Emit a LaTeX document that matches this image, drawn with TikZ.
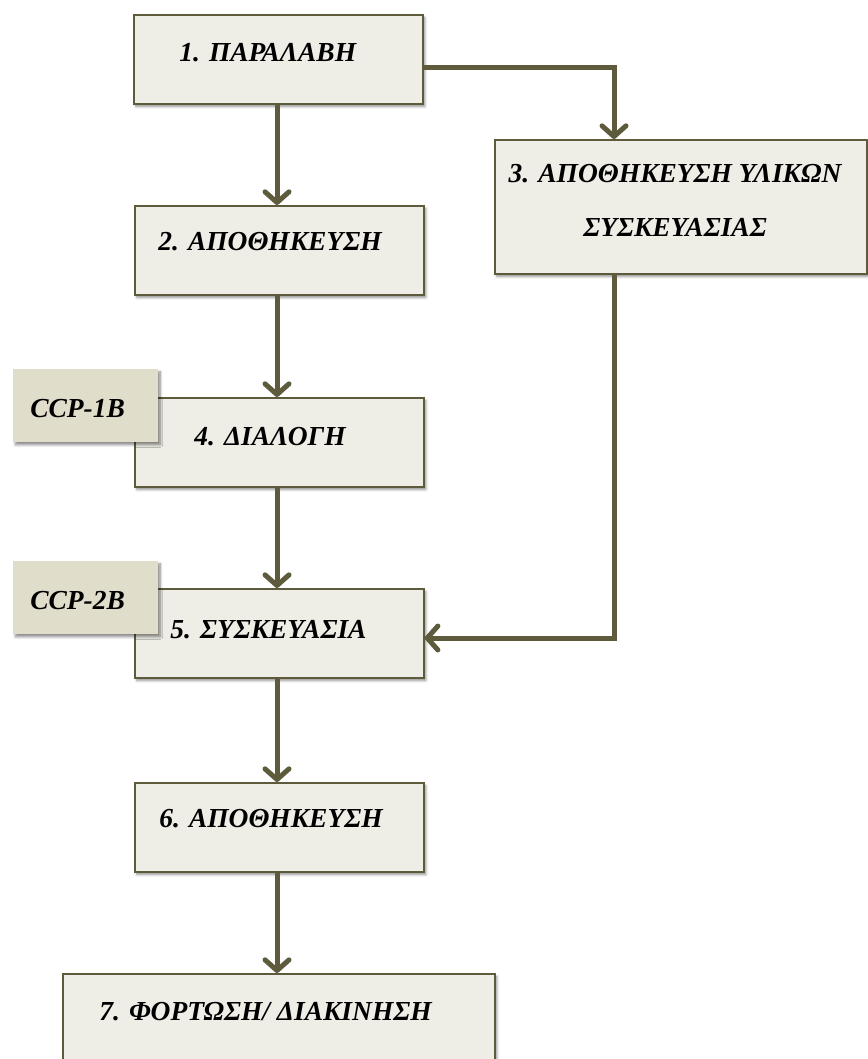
\documentclass[tikz,border=0pt]{standalone}
\usepackage{fontspec}
\setmainfont{Liberation Serif}
\usetikzlibrary{arrows.meta,shadows.blur}

\definecolor{boxfill}{HTML}{EEEDE6}
\definecolor{ccpfill}{HTML}{E0DECA}
\definecolor{edge}{HTML}{5E5A3C}

\tikzset{
  px/.style={x=0.75pt,y=-0.75pt},
  stepbox/.style={draw=edge, line width=1.3pt, fill=boxfill, anchor=north west,
    inner sep=0pt, minimum width=216.75pt, minimum height=66.75pt,
    blur shadow={shadow xshift=1.5pt, shadow yshift=-2pt, shadow blur steps=6, shadow opacity=45}},
  ccpbox/.style={fill=ccpfill, anchor=north west, inner sep=0pt,
    minimum width=108.75pt, minimum height=54.75pt,
    blur shadow={shadow xshift=1.5pt, shadow yshift=-2pt, shadow blur steps=6, shadow opacity=45}},
  lbl/.style={anchor=base west, inner sep=0pt,
    font=\fontsize{20.6}{25}\selectfont\bfseries\itshape},
  flow/.style={draw=edge, line width=3.75pt,
    -{Straight Barb[length=8pt,width=18pt,round]}},
}

\begin{document}
\begin{tikzpicture}[px]
\useasboundingbox (0,0) rectangle (867,1059);

% process boxes
\node[stepbox] (b1) at (133,14) {};
\node[stepbox] (b2) at (134,205) {};
\node[stepbox, minimum width=279pt, minimum height=100.5pt] (b3) at (494,139) {};
\node[stepbox] (b4) at (134,397) {};
\node[stepbox] (b5) at (134,588) {};
\node[stepbox] (b6) at (134,782) {};
\node[stepbox, minimum width=324pt, minimum height=82pt] (b7) at (62,973) {};

% critical control points
\node[ccpbox] (c1) at (13,369) {};
\node[ccpbox] (c2) at (13,561) {};

% labels
\node[lbl] (t1) at (179,62) {1. ΠΑΡΑΛΑΒΗ};
\node[lbl] (t2) at (158,251) {2. ΑΠΟΘΗΚΕΥΣΗ};
\node[lbl, anchor=center, align=center, font=\fontsize{20.6}{40.5}\selectfont\bfseries\itshape] (t3) at (675,200)
  {3. ΑΠΟΘΗΚΕΥΣΗ ΥΛΙΚΩΝ\\ΣΥΣΚΕΥΑΣΙΑΣ};
\node[lbl] (t4) at (194,445) {4. ΔΙΑΛΟΓΗ};
\node[lbl] (t5) at (170,638) {5. ΣΥΣΚΕΥΑΣΙΑ};
\node[lbl] (t6) at (159,827) {6. ΑΠΟΘΗΚΕΥΣΗ};
\node[lbl] (t7) at (99,1020) {7. ΦΟΡΤΩΣΗ/ ΔΙΑΚΙΝΗΣΗ};
\node[lbl] (tc1) at (30,417) {CCP-1B};
\node[lbl] (tc2) at (30,609) {CCP-2B};

% connectors
\coordinate (k1) at (614,68);
\coordinate (k2) at (614,638);
\draw[flow] (b1.south -| 277,0) -- (b2.north -| 277,0);
\draw[flow] (b1.east |- k1) -- (k1) -- (b3.north -| k1);
\draw[flow] (b2.south -| 277,0) -- (b4.north -| 277,0);
\draw[flow] (b3.south -| k2) -- (k2) -- (b5.east |- k2);
\draw[flow] (b4.south -| 277,0) -- (b5.north -| 277,0);
\draw[flow] (b5.south -| 277,0) -- (b6.north -| 277,0);
\draw[flow] (b6.south -| 277,0) -- (b7.north -| 277,0);
\end{tikzpicture}
\end{document}
